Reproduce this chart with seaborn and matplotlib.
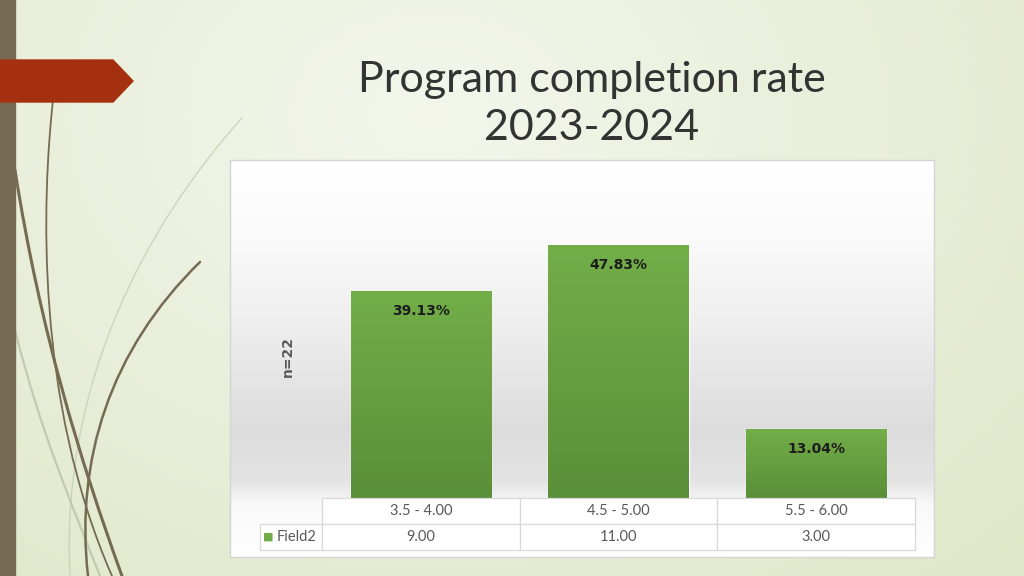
import numpy as np
import pandas as pd
import matplotlib
matplotlib.use("Agg")
import matplotlib.pyplot as plt
import seaborn as sns
from matplotlib.path import Path
from matplotlib.patches import PathPatch, Polygon, Rectangle

# ---- data ----
categories = ["3.5 - 4.00", "4.5 - 5.00", "5.5 - 6.00"]
counts = [9, 11, 3]
pct_labels = ["39.13%", "47.83%", "13.04%"]
series_name = "Field2"
y_label = "n=22"
title_lines = ["Program completion rate", "2023-2024"]

df = pd.DataFrame({"range": categories, "count": counts})

sns.set_theme(style="white")
plt.rcParams["font.family"] = ["Lato", "DejaVu Sans"]

W, H = 1024, 576
fig = plt.figure(figsize=(W / 100, H / 100), dpi=100)

# ---- slide background ----
bg = fig.add_axes([0, 0, 1, 1], zorder=0)
bg.set_xlim(0, W)
bg.set_ylim(H, 0)
bg.axis("off")
xx, yy = np.meshgrid(np.linspace(0, 1, 256), np.linspace(0, 1, 144))
d = np.sqrt(((xx - 0.42) / 0.9) ** 2 + ((yy - 0.2) / 1.2) ** 2)
t = np.clip(d, 0, 1)
light = np.array([0.955, 0.965, 0.925])
green = np.array([0.865, 0.905, 0.775])
img = light[None, None, :] * (1 - t[..., None]) + green[None, None, :] * t[..., None]
bg.imshow(img, extent=[0, W, H, 0], aspect="auto", zorder=0)

# left stripe
bg.add_patch(Rectangle((0, 0), 15, H, color="#766b52", zorder=2))
# red arrow
bg.add_patch(Polygon([(0, 60), (113, 60), (133, 81), (113, 102), (0, 102)],
                     closed=True, color="#a5300f", zorder=3))


def curve(pts, lw, color, alpha=1.0):
    codes = [Path.MOVETO] + [Path.CURVE4] * (len(pts) - 1)
    bg.add_patch(PathPatch(Path(pts, codes), fill=False, lw=lw,
                           edgecolor=color, alpha=alpha, zorder=1,
                           capstyle="round"))


# decorative grass strands
curve([(242, 118), (150, 220), (60, 380), (70, 576)], 1.0, "#c9d2b6", 0.9)
curve([(15, 330), (40, 430), (70, 500), (100, 576)], 1.6, "#b9c2a6", 0.8)
curve([(53, 100), (42, 200), (35, 400), (112, 576)], 1.3, "#766b52")
curve([(15, 170), (40, 330), (80, 460), (122, 576)], 2.2, "#766b52")
curve([(200, 262), (110, 350), (75, 460), (88, 576)], 1.8, "#766b52")

# ---- chart panel ----
px0, py0, px1, py1 = 230, 160, 934, 557
panel = fig.add_axes([px0 / W, 1 - py1 / H, (px1 - px0) / W, (py1 - py0) / H], zorder=1)
panel.set_xlim(0, 1)
panel.set_ylim(py1, py0)
ys = np.linspace(py0, py1, 300)
stops_y = [160, 230, 330, 430, 480, 505, 557]
stops_v = [1.0, 0.985, 0.93, 0.865, 0.89, 0.975, 1.0]
vals = np.interp(ys, stops_y, stops_v)
grad = np.repeat(vals[:, None], 2, axis=1)
panel.imshow(np.dstack([grad, grad, grad]), extent=[0, 1, py1, py0], aspect="auto")
for s in panel.spines.values():
    s.set_color("#d4d4d4")
    s.set_linewidth(1.0)
panel.set_xticks([])
panel.set_yticks([])

# ---- bar axes ----
ax0, ax1, ay0, ay1 = 322, 915, 176, 498
ax = fig.add_axes([ax0 / W, 1 - ay1 / H, (ax1 - ax0) / W, (ay1 - ay0) / H], zorder=2)
ax.patch.set_alpha(0)
sns.barplot(data=df, x="range", y="count", color="#70ad47", width=0.71,
            saturation=1, ax=ax, zorder=3)
ax.set_ylim(0, 14)
ax.set_xlim(-0.5, 2.5)
for s in ax.spines.values():
    s.set_visible(False)
ax.set_xticks([])
ax.set_yticks([])
ax.set_xlabel("")

# bar vertical gradient
bar_grad = np.linspace(0, 1, 100)[:, None]
cmap = matplotlib.colors.LinearSegmentedColormap.from_list("g", ["#5a8f39", "#72ae48"])
for p in ax.patches:
    x0, y0 = p.get_x(), p.get_y()
    w, h = p.get_width(), p.get_height()
    im = ax.imshow(bar_grad, extent=[x0, x0 + w, y0, y0 + h], origin="lower",
                   cmap=cmap, aspect="auto", zorder=4)
    im.set_clip_path(p)
ax.set_xlim(-0.5, 2.5)
ax.set_ylim(0, 14)

for i, (v, lab) in enumerate(zip(counts, pct_labels)):
    ax.annotate(lab, xy=(i, v), xytext=(0, -14.5), textcoords="offset points",
                ha="center", va="center", fontsize=10, fontweight="bold",
                family="DejaVu Sans", color="#1c1c1c", zorder=6)

ax.set_ylabel(y_label, fontsize=10, fontweight="bold", color="#595959",
              family="DejaVu Sans")
ax.yaxis.set_label_coords(-0.045, 0.44)

# ---- data table (manual column widths) ----
aw = ax1 - ax0
ah = ay1 - ay0
rl_w = 62
cell_rows = [[""] + categories, [series_name] + [f"{c:.2f}" for c in counts]]
col_w = [rl_w] + [aw / 3] * 3
tbl = ax.table(cellText=cell_rows, cellLoc="center",
               colWidths=[c / sum(col_w) for c in col_w],
               bbox=[-rl_w / aw, -52 / ah, 1 + rl_w / aw, 52 / ah])
tbl.auto_set_font_size(False)
tbl.set_fontsize(10.5)
for (r, c), cell in tbl.get_celld().items():
    cell.set_edgecolor("#d9d9d9")
    cell.set_linewidth(0.9)
    cell.set_facecolor("white")
    cell.get_text().set_color("#595959")
    cell.get_text().set_fontfamily("Lato")
    if r == 0 and c == 0:
        cell.visible_edges = ""
        cell.set_facecolor("none")
    if r == 1 and c == 0:
        cell._loc = "left"
        cell.get_text().set_ha("left")
        cell.PAD = 0.27
tbl.set_zorder(5)
fig.text(263 / W, 1 - 537 / H, "■", color="#70ad47", fontsize=8,
         ha="left", va="center", family="DejaVu Sans", zorder=10)

# ---- title ----
for line, yc in zip(title_lines, [80, 128]):
    fig.text(592 / W, 1 - yc / H, line, ha="center", va="center",
             fontsize=31, color="#333333", zorder=10)

fig.savefig("out.png", dpi=100)
